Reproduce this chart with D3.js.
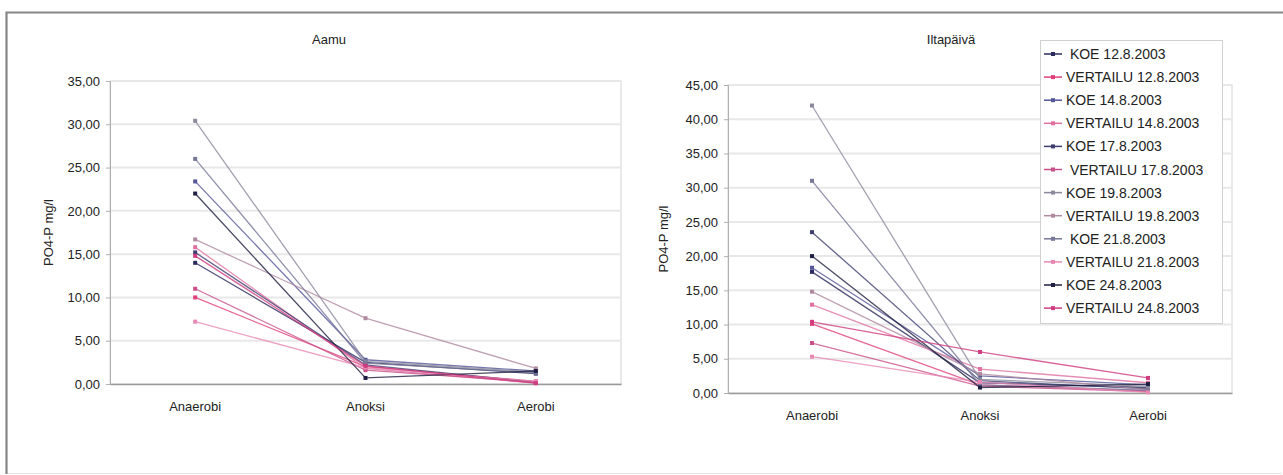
<!DOCTYPE html>
<html>
<head>
<meta charset="utf-8">
<script src="https://cdn.jsdelivr.net/npm/d3@7"></script>
<style>
  body { margin: 0; background: #fff; }
  svg text { font-family: "Liberation Sans", Arial, sans-serif; fill: #222; }
</style>
</head>
<body>
<svg id="chart" width="1283" height="475"></svg>
<script>
// categories and tick labels
var phases = ["Anaerobi", "Anoksi", "Aerobi"];
var seriesNames = [" KOE 12.8.2003", "VERTAILU 12.8.2003", "KOE 14.8.2003", "VERTAILU 14.8.2003",
  "KOE 17.8.2003", " VERTAILU 17.8.2003", "KOE 19.8.2003", "VERTAILU 19.8.2003",
  " KOE 21.8.2003", "VERTAILU 21.8.2003", "KOE 24.8.2003", "VERTAILU 24.8.2003"];
var seriesColors = ["#2b2b5e", "#e0407a", "#55559a", "#e070a0", "#3d3d70", "#c8508a",
  "#8a8a9c", "#b08aa0", "#77779a", "#e888b4", "#1e1e40", "#d03c80"];

// Aamu (morning) values, one row per series: Anaerobi, Anoksi, Aerobi
var aamu = [
  [14.0, 2.5, 1.2],
  [10.0, 2.0, 0.3],
  [23.4, 2.8, 1.5],
  [15.8, 1.8, 0.1],
  [15.2, 2.2, 0.2],
  [11.0, 1.6, 0.2],
  [30.4, 2.6, 1.4],
  [16.7, 7.6, 1.8],
  [26.0, 2.4, 1.3],
  [7.2, 1.9, 0.3],
  [22.0, 0.7, 1.5],
  [14.8, 2.1, 0.1]
];
// Iltapäivä (afternoon) values
var iltapaiva = [
  [17.7, 1.5, 0.8],
  [10.1, 1.2, 0.3],
  [18.3, 2.5, 1.2],
  [12.9, 3.5, 1.5],
  [23.5, 1.8, 0.6],
  [7.3, 1.0, 0.2],
  [42.0, 2.0, 1.0],
  [14.8, 2.8, 0.5],
  [31.0, 1.2, 0.4],
  [5.3, 1.6, 0.1],
  [20.0, 0.8, 1.3],
  [10.4, 6.0, 2.2]
];
var aamuTicks = [0, 5, 10, 15, 20, 25, 30, 35];
var iltaTicks = [0, 5, 10, 15, 20, 25, 30, 35, 40, 45];

var svg = d3.select("#chart");
var fmt = function(d){ return d3.format(".2f")(d).replace(".", ","); };

// outer frame: dark on top/left, faint on right/bottom
svg.append("path")
  .attr("d", "M1282,473.5H6.5V12.5H1282")
  .attr("fill", "none").attr("stroke", "#e4e4e4").attr("stroke-width", 1);
svg.append("path")
  .attr("d", "M6.5,474V12.5H1283")
  .attr("fill", "none").attr("stroke", "#858585").attr("stroke-width", 2.2);

function drawChart(opts){
  var x = d3.scaleBand().domain(phases).range([opts.left, opts.right]);
  var y = d3.scaleLinear().domain([0, d3.max(opts.ticks)]).range([opts.bottom, opts.top]);
  var g = svg.append("g");

  // plot area border
  g.append("rect")
    .attr("x", opts.left).attr("y", opts.top)
    .attr("width", opts.right - opts.left).attr("height", opts.bottom - opts.top)
    .attr("fill", "none").attr("stroke", "#d4d4d4");

  // grid lines
  g.selectAll(".grid")
    .data(opts.ticks.slice(1))
    .enter().append("line")
    .attr("x1", opts.left).attr("x2", opts.right)
    .attr("y1", function(d){ return y(d); })
    .attr("y2", function(d){ return y(d); })
    .attr("stroke", "#e8e8e8").attr("stroke-width", 2);

  var yAxis = g.append("g")
    .attr("transform", "translate(" + opts.left + ",0)")
    .call(d3.axisLeft(y).tickValues(opts.ticks).tickFormat(fmt).tickSize(4).tickPadding(6));
  yAxis.select(".domain").attr("stroke", "#b0b0b0");
  yAxis.selectAll(".tick line").attr("stroke", "#b0b0b0");
  yAxis.selectAll("text").style("font-size", "13px").attr("fill", "#222");

  var xAxis = g.append("g")
    .attr("transform", "translate(0," + opts.bottom + ")")
    .call(d3.axisBottom(x).tickSize(0).tickPadding(18));
  xAxis.select(".domain").attr("stroke", "#9a9a9a").attr("stroke-width", 1.5);
  xAxis.selectAll("text").style("font-size", "13px").attr("fill", "#222");

  // titles
  g.append("text")
    .attr("x", opts.titleX).attr("y", 44)
    .attr("text-anchor", "middle")
    .style("font-size", "13px")
    .text(opts.title);
  g.append("text")
    .attr("transform", "translate(" + opts.yTitleX + "," + ((opts.top + opts.bottom) / 2) + ") rotate(-90)")
    .attr("text-anchor", "middle")
    .style("font-size", "13px")
    .text("PO4-P mg/l");

  var line = d3.line()
    .x(function(d, i){ return x(phases[i]) + x.bandwidth() / 2; })
    .y(function(d){ return y(d); });

  opts.data.forEach(function(vals, s){
    g.append("path")
      .attr("d", line(vals))
      .attr("fill", "none")
      .attr("stroke", seriesColors[s])
      .attr("stroke-width", 1.3)
      .attr("opacity", 0.8);
    g.selectAll(".m" + s)
      .data(vals)
      .enter().append("rect")
      .attr("x", function(d, i){ return x(phases[i]) + x.bandwidth() / 2 - 2; })
      .attr("y", function(d){ return y(d) - 2; })
      .attr("width", 4).attr("height", 4)
      .attr("fill", seriesColors[s]);
  });
  return g;
}

drawChart({ left: 110, right: 621, top: 81, bottom: 384, ticks: aamuTicks,
  data: aamu, title: "Aamu", titleX: 329, yTitleX: 53 });
var right = drawChart({ left: 728, right: 1232, top: 85, bottom: 393, ticks: iltaTicks,
  data: iltapaiva, title: "Iltapäivä", titleX: 951, yTitleX: 668 });

// legend
var legend = right.append("g");
legend.append("rect")
  .attr("x", 1040.5).attr("y", 40.5).attr("width", 182).attr("height", 283)
  .attr("fill", "#fff").attr("stroke", "#d0d0d0");
var items = legend.selectAll(".item")
  .data(seriesNames)
  .enter().append("g")
  .attr("transform", function(d, i){ return "translate(1044," + (54 + i * 23.1) + ")"; });
items.append("line")
  .attr("x1", 0).attr("x2", 18).attr("y1", 0).attr("y2", 0)
  .attr("stroke", function(d, i){ return seriesColors[i]; }).attr("stroke-width", 1.5);
items.append("rect")
  .attr("x", 7).attr("y", -2).attr("width", 4).attr("height", 4)
  .attr("fill", function(d, i){ return seriesColors[i]; });
items.append("text")
  .attr("x", 22).attr("y", 5)
  .style("font-size", "14px")
  .style("white-space", "pre")
  .text(function(d){ return d; });
</script>
</body>
</html>
